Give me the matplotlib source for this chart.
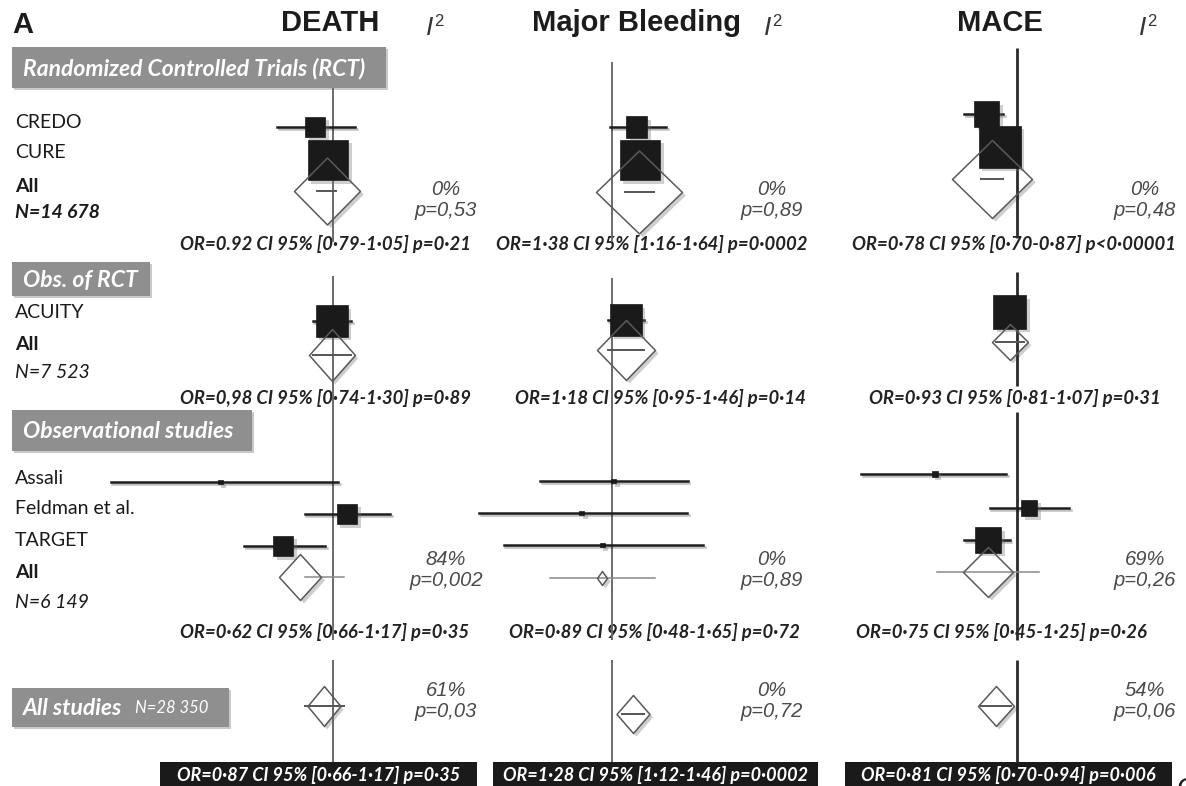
import numpy as np
import matplotlib.pyplot as plt
from matplotlib.path import Path
from matplotlib.patches import Rectangle
import matplotlib.patheffects as pe

# ---- data ---------------------------------------------------------------
studies = ["CREDO", "CURE", "ACUITY", "Assali", "Feldman et al.", "TARGET"]
groups = ["Randomized Controlled Trials (RCT)", "Obs. of RCT",
          "Observational studies", "All studies"]
group_n = ["N=14 678", "N=7 523", "N=6 149", "N=28 350"]
outcomes = ["DEATH", "Major Bleeding", "MACE"]

# per-study odds ratio, 95% CI and relative weight (%)
death_or = [0.77, 0.93, 0.98, 0.19, 1.23, 0.48]
death_lo = [0.44, 0.84, 0.74, 0.038, 0.66, 0.27]
death_hi = [1.38, 1.03, 1.30, 1.08, 2.31, 0.89]
death_wt = [20, 80, 50, 1.2, 20, 20]

bleed_or = [1.34, 1.39, 1.18, 1.02, 0.70, 0.89]
bleed_lo = [0.98, 1.22, 0.95, 0.43, 0.21, 0.28]
bleed_hi = [1.89, 1.58, 1.46, 2.44, 2.42, 2.92]
bleed_wt = [22, 80, 50, 1.2, 1.2, 1.2]

mace_or = [0.74, 0.84, 0.93, 0.44, 1.13, 0.75]
mace_lo = [0.59, 0.76, 0.81, 0.21, 0.76, 0.59]
mace_hi = [0.87, 0.93, 1.07, 0.90, 1.68, 0.93]
mace_wt = [31, 87, 54, 1.8, 13, 33]

# pooled estimates: RCT, Obs. of RCT, observational, all studies
death_pool_or = [0.92, 0.98, 0.62, 0.87]
death_pool_lo = [0.79, 0.74, 0.66, 0.66]
death_pool_hi = [1.05, 1.30, 1.17, 1.17]
bleed_pool_or = [1.38, 1.18, 0.89, 1.28]
bleed_pool_lo = [1.16, 0.95, 0.48, 1.12]
bleed_pool_hi = [1.64, 1.46, 1.65, 1.46]
mace_pool_or = [0.78, 0.93, 0.75, 0.81]
mace_pool_lo = [0.70, 0.81, 0.45, 0.70]
mace_pool_hi = [0.87, 1.07, 1.25, 0.94]

death_summary = ["OR=0.92 CI 95% [0·79-1·05] p=0·21",
                 "OR=0,98 CI 95% [0·74-1·30] p=0·89",
                 "OR=0·62 CI 95% [0·66-1·17] p=0·35",
                 "OR=0·87 CI 95% [0·66-1·17] p=0·35"]
bleed_summary = ["OR=1·38 CI 95% [1·16-1·64] p=0·0002",
                 "OR=1·18 CI 95% [0·95-1·46] p=0·14",
                 "OR=0·89 CI 95% [0·48-1·65] p=0·72",
                 "OR=1·28 CI 95% [1·12-1·46] p=0·0002"]
mace_summary = ["OR=0·78 CI 95% [0·70-0·87] p<0·00001",
                "OR=0·93 CI 95% [0·81-1·07] p=0·31",
                "OR=0·75 CI 95% [0·45-1·25] p=0·26",
                "OR=0·81 CI 95% [0·70-0·94] p=0·006"]

# heterogeneity (RCT, observational, all studies)
death_i2 = ["0%", "84%", "61%"]
death_het_p = ["p=0,53", "p=0,002", "p=0,03"]
bleed_i2 = ["0%", "0%", "0%"]
bleed_het_p = ["p=0,89", "p=0,89", "p=0,72"]
mace_i2 = ["0%", "69%", "54%"]
mace_het_p = ["p=0,48", "p=0,26", "p=0,06"]

# ---- layout (pixels) ----------------------------------------------------
W, H = 1186, 786
PT = 72 / 100  # points per pixel at dpi=100

ref_x = [333, 612, 1017]
px_per_log = [68, 85, 100]
ax_span = [(60, 480), (470, 800), (830, 1180)]
study_y = [[127, 160, 321, 482, 514, 546],
           [127, 160, 320, 481, 513, 545],
           [114, 147, 312, 474, 508, 540]]
pool_y = [[191, 355, 577, 706],
          [192, 350, 578, 714],
          [179, 342, 572, 706]]
pool_w = [[66, 46, 42, 33], [86, 58, 10, 33], [80, 36, 50, 36]]
pool_h = [[67, 52, 46, 40], [83, 60, 14, 38], [78, 36, 50, 40]]
ref_segments = [[(88, 242), (276, 640), (660, 762)],
                [(62, 242), (278, 640), (660, 762)],
                [(48, 238), (272, 386), (412, 640), (660, 762)]]
ref_style = [("#6a6a6a", 1.4), ("#6a6a6a", 1.4), ("#2a2a2a", 2.0)]
header_x = [330, 636, 1000]
i2_x = [430, 768, 1143]
het_x = [446, 772, 1145]
het_y = [200, 570, 701]
summary_x = [[325, 325, 325], [652, 660, 654], [1014, 1015, 1001]]
summary_y = [244, 398, 632]
black_box = [(160, 477), (493, 818), (845, 1172)]

SANS = "Liberation Sans"
BODY = "Lato"

shadow = [pe.SimplePatchShadow(offset=(2.5, -2.5), shadow_rgbFace="0.45",
                               alpha=0.35), pe.Normal()]


def diamond(w, h):
    return Path([(0, h), (w, 0), (0, -h), (-w, 0), (0, h)],
                [Path.MOVETO, Path.LINETO, Path.LINETO, Path.LINETO,
                 Path.CLOSEPOLY])


fig = plt.figure(figsize=(W / 100, H / 100), dpi=100)
base = fig.add_axes([0, 0, 1, 1])
base.set_xlim(0, W)
base.set_ylim(H, 0)
base.axis("off")

# ---- left column --------------------------------------------------------
base.text(12, 25, "A", fontsize=21, fontweight="bold", family=SANS,
          color="#1c1c1c", va="center")

group_boxes = [(12, 47, 374, 41), (12, 262, 138, 34),
               (12, 410, 240, 41), (12, 688, 217, 39)]
for (x, y, w, h), name in zip(group_boxes, groups):
    base.add_patch(Rectangle((x, y), w, h, facecolor="#8f8f8f",
                             edgecolor="none",
                             path_effects=[pe.SimplePatchShadow(
                                 offset=(1.5, -1.5), alpha=0.25), pe.Normal()]))
    base.text(x + 11, y + h / 2 + 1, name, color="white", fontsize=16.5,
              fontweight="bold", style="italic", family=BODY, va="center")
base.text(135, 707 + 1, group_n[3], color="white", fontsize=12,
          style="italic", family=BODY, va="center")

label_rows = [(studies[0], 122, "normal", "normal"),
              (studies[1], 153, "normal", "normal"),
              ("All", 186, "bold", "normal"),
              (group_n[0], 213, "bold", "italic"),
              (studies[2], 312, "normal", "normal"),
              ("All", 345, "bold", "normal"),
              (group_n[1], 373, "normal", "italic"),
              (studies[3], 478, "normal", "normal"),
              (studies[4], 509, "normal", "normal"),
              (studies[5], 540, "normal", "normal"),
              ("All", 572, "bold", "normal"),
              (group_n[2], 603, "normal", "italic")]
for text, y, weight, style in label_rows:
    base.text(15, y, text, fontsize=14, fontweight=weight, style=style,
              family=BODY, color="#1a1a1a", va="center")

# ---- the three forest panels -------------------------------------------
panel_data = [
    (death_or, death_lo, death_hi, death_wt, death_pool_or, death_pool_lo,
     death_pool_hi, death_summary, death_i2, death_het_p),
    (bleed_or, bleed_lo, bleed_hi, bleed_wt, bleed_pool_or, bleed_pool_lo,
     bleed_pool_hi, bleed_summary, bleed_i2, bleed_het_p),
    (mace_or, mace_lo, mace_hi, mace_wt, mace_pool_or, mace_pool_lo,
     mace_pool_hi, mace_summary, mace_i2, mace_het_p),
]

for p, (est, lo, hi, wt, pest, plo, phi, summ, i2, hetp) in enumerate(panel_data):
    left, right = ax_span[p]
    ax = fig.add_axes([left / W, 0, (right - left) / W, 1])
    ax.set_xscale("log")
    ax.set_xlim(np.exp((left - ref_x[p]) / px_per_log[p]),
                np.exp((right - ref_x[p]) / px_per_log[p]))
    ax.set_ylim(H, 0)
    ax.axis("off")

    # pooled diamonds: white body first so the boxes sit on top of it
    for g in range(4):
        w, h = pool_w[p][g], pool_h[p][g]
        ax.plot(pest[g], pool_y[p][g], marker=diamond(w, h),
                ms=max(w, h) * PT, mfc="white", mec="none", zorder=1,
                clip_on=False, path_effects=shadow)

    color, lw = ref_style[p]
    for y0, y1 in ref_segments[p]:
        ax.plot([1, 1], [y0, y1], color=color, lw=lw, zorder=2,
                solid_capstyle="butt")

    # pooled confidence intervals
    for g in range(4):
        ci_col, ci_lw = ("#8a8a8a", 1.1) if g == 2 else ("#555555", 1.4)
        ax.plot([plo[g], phi[g]], [pool_y[p][g]] * 2, color=ci_col,
                lw=ci_lw, zorder=3, clip_on=False)

    # individual studies
    for s in range(len(est)):
        y = study_y[p][s]
        ax.plot([lo[s], hi[s]], [y, y], color="#1e1e1e", lw=1.8, zorder=4,
                clip_on=False,
                path_effects=[pe.SimpleLineShadow(offset=(1.2, -1.2),
                                                  alpha=0.25), pe.Normal()])
        side = 4.5 * np.sqrt(wt[s])
        ax.plot(est[s], y, marker="s", ms=side * PT, mfc="#1a1a1a",
                mec="#1a1a1a", mew=0.5, zorder=5, clip_on=False,
                path_effects=shadow)

    # diamond outlines over everything
    for g in range(4):
        w, h = pool_w[p][g], pool_h[p][g]
        ax.plot(pest[g], pool_y[p][g], marker=diamond(w, h),
                ms=max(w, h) * PT, mfc="none", mec="#5a5a5a", mew=1.1,
                zorder=6, clip_on=False)

    # headers
    base.text(header_x[p], 23, outcomes[p], fontsize=21, fontweight="bold",
              family=SANS, color="#1c1c1c", ha="center", va="center")
    base.text(i2_x[p], 28, "I", fontsize=19, style="italic", family=SANS,
              color="#333333", va="center", ha="center")
    base.text(i2_x[p] + 9, 21, "2", fontsize=12, family=SANS,
              color="#333333", va="center", ha="center")

    # heterogeneity
    for g in range(3):
        base.text(het_x[p], het_y[g], i2[g] + "\n" + hetp[g], fontsize=14.5,
                  style="italic", family=SANS, color="#4a4a4a",
                  ha="center", va="center", multialignment="center",
                  linespacing=1.15)

    # summary lines
    for g in range(3):
        base.text(summary_x[p][g], summary_y[g], summ[g], fontsize=13.3,
                  fontweight="bold", style="italic", family=BODY,
                  color="#222222", ha="center", va="center")
    bx0, bx1 = black_box[p]
    base.add_patch(Rectangle((bx0, 762), bx1 - bx0, 30, facecolor="#1a1a1a",
                             edgecolor="none"))
    base.text((bx0 + bx1) / 2, 775, summ[3], fontsize=13.0, fontweight="bold",
              style="italic", family=BODY, color="white", ha="center",
              va="center")

base.text(1176, 790, "C", fontsize=21, family=SANS, color="#1c1c1c",
          va="center")

fig.savefig("out.png", dpi=100)
